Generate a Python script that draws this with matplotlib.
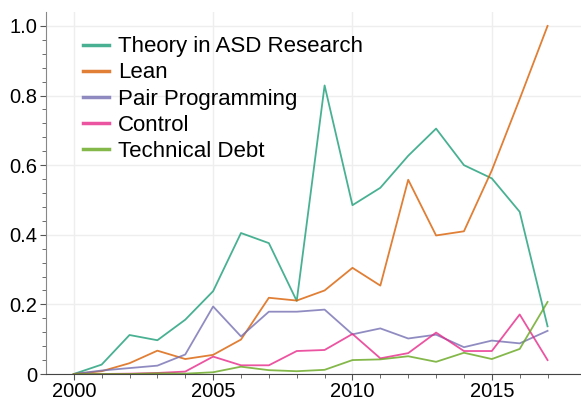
import matplotlib.pyplot as plt
import numpy as np

plt.rcParams['font.family'] = ['Liberation Sans', 'DejaVu Sans']

years = list(range(2000, 2018))

theory = [0, 0.027, 0.112, 0.097, 0.156, 0.238, 0.405, 0.376, 0.21, 0.829,
          0.485, 0.535, 0.627, 0.705, 0.6, 0.562, 0.466, 0.137]
lean = [0, 0.008, 0.031, 0.067, 0.043, 0.055, 0.099, 0.219, 0.211, 0.24,
        0.305, 0.254, 0.558, 0.398, 0.41, 0.585, 0.79, 1.0]
pair = [0, 0.01, 0.017, 0.024, 0.056, 0.194, 0.108, 0.179, 0.179, 0.185,
        0.114, 0.131, 0.102, 0.113, 0.077, 0.096, 0.088, 0.124]
control = [0, 0, 0.001, 0.003, 0.007, 0.05, 0.025, 0.025, 0.066, 0.069,
           0.115, 0.045, 0.06, 0.119, 0.066, 0.066, 0.171, 0.04]
debt = [0, 0, 0, 0.002, 0.001, 0.005, 0.021, 0.011, 0.008, 0.012,
        0.04, 0.042, 0.051, 0.035, 0.061, 0.043, 0.072, 0.207]

names = ["Theory in ASD Research", "Lean", "Pair Programming", "Control", "Technical Debt"]
colors = ["#1b9e77", "#d95f02", "#7570b3", "#e7298a", "#66a61e"]

fig = plt.figure(figsize=(5.81, 4.0), dpi=100)
ax = fig.add_axes([0.079, 0.065, 0.921, 0.905])

for s, n, c in zip([theory, lean, pair, control, debt], names, colors):
    ax.plot(years, s, color=c, alpha=0.8, lw=1.3, label=n)

ax.set_xlim(1999.0, 2018.2)
ax.set_ylim(0, 1.04)
ax.set_xticks([2000, 2005, 2010, 2015])
ax.set_xticks(years, minor=True)
ax.set_yticks([0, 0.2, 0.4, 0.6, 0.8, 1.0])
ax.set_yticklabels(["0", "0.2", "0.4", "0.6", "0.8", "1.0"])
ax.set_yticks(np.arange(0, 1.04, 0.04), minor=True)
ax.grid(True, which='major', color='#eeeeee', lw=1)
ax.set_axisbelow(True)
ax.tick_params(labelsize=14.5, length=4, color='#555555', pad=2)
ax.tick_params(which='minor', length=3, color='#555555')
for sp in ['top', 'right']:
    ax.spines[sp].set_visible(False)
ax.spines['left'].set_color('#888888')
ax.spines['bottom'].set_color('#444444')

leg = ax.legend(loc='upper left', bbox_to_anchor=(0.032, 0.988), frameon=False,
                fontsize=16, handlelength=1.15, handletextpad=0.42, labelspacing=0.23)
for l in leg.get_lines():
    l.set_linewidth(2.5)

fig.savefig("out.png")
